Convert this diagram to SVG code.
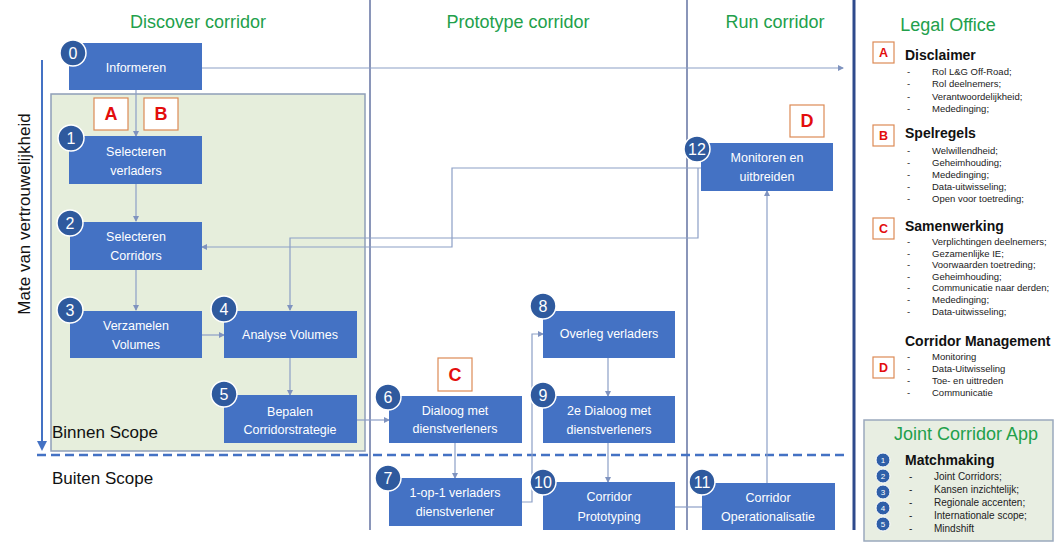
<svg xmlns="http://www.w3.org/2000/svg" width="1056" height="549" viewBox="0 0 1056 549">
<style>
.title{font-family:"Liberation Sans",Arial,sans-serif;font-size:18px;fill:#22a04b;text-anchor:middle}
.node{fill:#4472c4}
.lbl{font-family:"Liberation Sans",Arial,sans-serif;font-size:12.5px;fill:#ffffff;text-anchor:middle}
.num{fill:#2f5a9e;stroke:#ffffff;stroke-width:1.5}
.numt{font-family:"Liberation Sans",Arial,sans-serif;font-size:16px;fill:#ffffff;text-anchor:middle}
.conn{fill:none;stroke:#8c9fc6;stroke-width:1.2}
.lbox{fill:#ffffff;stroke:#dd8a55;stroke-width:1.2}
.lbig{font-family:"Liberation Sans",Arial,sans-serif;font-weight:900;font-size:18px;fill:#e30d0d;text-anchor:middle}
.lsm{font-family:"Liberation Sans",Arial,sans-serif;font-weight:900;font-size:12.5px;fill:#e30d0d;text-anchor:middle}
.head{font-family:"Liberation Sans",Arial,sans-serif;font-weight:bold;font-size:14px;fill:#111111}
.item{font-family:"Liberation Sans",Arial,sans-serif;font-size:9.5px;fill:#222222}
.item2{font-family:"Liberation Sans",Arial,sans-serif;font-size:10px;fill:#222222}
.scope{font-family:"Liberation Sans",Arial,sans-serif;font-size:17px;fill:#111111}
.col{stroke:#3c4f8a;stroke-width:1.2}
.jc{fill:#2f5fa8;stroke:#ffffff;stroke-width:1}
.jct{font-family:"Liberation Sans",Arial,sans-serif;font-size:8px;fill:#ffffff;text-anchor:middle}
</style>
<defs>
<marker id="ah" markerWidth="6" markerHeight="6" refX="5" refY="3" orient="auto" markerUnits="userSpaceOnUse">
<path d="M0,0 L6,3 L0,6 z" fill="#7f93bf"/>
</marker>
<marker id="big" markerWidth="10" markerHeight="10" refX="8" refY="5" orient="auto" markerUnits="userSpaceOnUse">
<path d="M0,0 L10,5 L0,10 z" fill="#4472c4"/>
</marker>
</defs>
<rect width="1056" height="549" fill="#ffffff"/>

<g id="background">
<rect x="51" y="94" width="314" height="357" fill="#e6eedc" stroke="#8f9fb8" stroke-width="1.5"/>
<line class="col" x1="370" y1="0" x2="370" y2="530"/>
<line class="col" x1="687" y1="0" x2="687" y2="530"/>
<line x1="854" y1="0" x2="854" y2="530" stroke="#2e4a8c" stroke-width="3"/>
<text class="title" x="198" y="28">Discover corridor</text>
<text class="title" x="518" y="28">Prototype corridor</text>
<text class="title" x="775" y="28">Run corridor</text>
<text class="title" x="948" y="31">Legal Office</text>
<line x1="42" y1="60" x2="42" y2="449" stroke="#4472c4" stroke-width="2" marker-end="url(#big)"/>
<text x="30" y="214" font-family="Liberation Sans, Arial, sans-serif" font-size="17" fill="#111111" text-anchor="middle" transform="rotate(-90 30 214)">Mate van vertrouwelijkheid</text>
<line x1="37" y1="455" x2="846" y2="455" stroke="#4472c4" stroke-width="2.5" stroke-dasharray="9 5"/>
<text class="scope" x="52" y="438">Binnen Scope</text>
<text class="scope" x="52" y="484">Buiten Scope</text>
</g>

<g id="connectors">
<line class="conn" x1="202" y1="68" x2="843" y2="68" marker-end="url(#ah)"/>
<line class="conn" x1="136" y1="90" x2="136" y2="136" marker-end="url(#ah)"/>
<line class="conn" x1="136" y1="184" x2="136" y2="221" marker-end="url(#ah)"/>
<line class="conn" x1="136" y1="270" x2="136" y2="310" marker-end="url(#ah)"/>
<line class="conn" x1="202" y1="335" x2="224" y2="335" marker-end="url(#ah)"/>
<line class="conn" x1="290" y1="358" x2="290" y2="395" marker-end="url(#ah)"/>
<line class="conn" x1="357" y1="420" x2="389" y2="420" marker-end="url(#ah)"/>
<line class="conn" x1="455" y1="443" x2="455" y2="478" marker-end="url(#ah)"/>
<polyline class="conn" points="522,502 532,502 532,334 543,334" marker-end="url(#ah)"/>
<line class="conn" x1="608" y1="358" x2="608" y2="396" marker-end="url(#ah)"/>
<line class="conn" x1="608" y1="443" x2="608" y2="482" marker-end="url(#ah)"/>
<line class="conn" x1="675" y1="507" x2="702" y2="507"/>
<line class="conn" x1="767" y1="483" x2="767" y2="191" marker-end="url(#ah)"/>
<polyline class="conn" points="701,168 452,168 452,247 202,247" marker-end="url(#ah)"/>
<polyline class="conn" points="698,168 698,238 290,238 290,310" marker-end="url(#ah)"/>
</g>

<g id="node0"><rect class="node" x="69" y="43" width="133" height="47"/><circle class="num" cx="73" cy="53" r="13"/><text class="numt" x="73" y="59">0</text><text class="lbl" x="136" y="72">Informeren</text></g>
<g id="node1"><rect class="node" x="69" y="136" width="133" height="48"/><circle class="num" cx="71" cy="138" r="13"/><text class="numt" x="71" y="144">1</text><text class="lbl" x="136" y="156">Selecteren</text><text class="lbl" x="136" y="175">verladers</text></g>
<g id="node2"><rect class="node" x="70" y="222" width="132" height="48"/><circle class="num" cx="70" cy="223" r="13"/><text class="numt" x="70" y="229">2</text><text class="lbl" x="136" y="241">Selecteren</text><text class="lbl" x="136" y="260">Corridors</text></g>
<g id="node3"><rect class="node" x="70" y="311" width="132" height="47"/><circle class="num" cx="70" cy="310" r="13"/><text class="numt" x="70" y="316">3</text><text class="lbl" x="136" y="330">Verzamelen</text><text class="lbl" x="136" y="349">Volumes</text></g>
<g id="node4"><rect class="node" x="224" y="311" width="133" height="47"/><circle class="num" cx="224" cy="309" r="13"/><text class="numt" x="224" y="315">4</text><text class="lbl" x="290" y="339">Analyse Volumes</text></g>
<g id="node5"><rect class="node" x="224" y="395" width="133" height="48"/><circle class="num" cx="224" cy="394" r="13"/><text class="numt" x="224" y="400">5</text><text class="lbl" x="290" y="416">Bepalen</text><text class="lbl" x="290" y="434">Corridorstrategie</text></g>
<g id="node6"><rect class="node" x="389" y="396" width="133" height="47"/><circle class="num" cx="388" cy="397" r="13"/><text class="numt" x="388" y="403">6</text><text class="lbl" x="455" y="415">Dialoog met</text><text class="lbl" x="455" y="433">dienstverleners</text></g>
<g id="node7"><rect class="node" x="389" y="478" width="133" height="48"/><circle class="num" cx="388" cy="478" r="13"/><text class="numt" x="388" y="484">7</text><text class="lbl" x="455" y="497">1-op-1 verladers</text><text class="lbl" x="455" y="516">dienstverlener</text></g>
<g id="node8"><rect class="node" x="543" y="311" width="132" height="47"/><circle class="num" cx="543" cy="306" r="13"/><text class="numt" x="543" y="312">8</text><text class="lbl" x="609" y="338">Overleg verladers</text></g>
<g id="node9"><rect class="node" x="543" y="396" width="132" height="47"/><circle class="num" cx="543" cy="395" r="13"/><text class="numt" x="543" y="401">9</text><text class="lbl" x="609" y="415">2e Dialoog met</text><text class="lbl" x="609" y="434">dienstverleners</text></g>
<g id="node10"><rect class="node" x="543" y="482" width="132" height="48"/><circle class="num" cx="543" cy="482" r="13"/><text class="numt" x="543" y="488">10</text><text class="lbl" x="609" y="501">Corridor</text><text class="lbl" x="609" y="521">Prototyping</text></g>
<g id="node11"><rect class="node" x="702" y="483" width="133" height="47"/><circle class="num" cx="702" cy="482" r="13"/><text class="numt" x="702" y="488">11</text><text class="lbl" x="768" y="502">Corridor</text><text class="lbl" x="768" y="521">Operationalisatie</text></g>
<g id="node12"><rect class="node" x="701" y="143" width="132" height="48"/><circle class="num" cx="697" cy="149" r="13"/><text class="numt" x="697" y="155">12</text><text class="lbl" x="767" y="162">Monitoren en</text><text class="lbl" x="767" y="181">uitbreiden</text></g>

<g id="tagA"><rect class="lbox" x="94" y="98" width="34" height="32"/><text class="lbig" x="111" y="120">A</text></g>
<g id="tagB"><rect class="lbox" x="144" y="98" width="34" height="32"/><text class="lbig" x="161" y="120">B</text></g>
<g id="tagC"><rect class="lbox" x="438" y="358" width="34" height="33"/><text class="lbig" x="455" y="381">C</text></g>
<g id="tagD"><rect class="lbox" x="790" y="105" width="34" height="32"/><text class="lbig" x="807" y="127">D</text></g>

<g id="legal-office">
<rect class="lbox" x="873" y="42" width="21" height="21"/><text class="lsm" x="883.5" y="57">A</text>
<text class="head" x="905" y="60">Disclaimer</text>
<g class="item">
<text x="907" y="75">-</text><text x="932" y="75">Rol L&amp;G Off-Road;</text>
<text x="907" y="87">-</text><text x="932" y="87">Rol deelnemers;</text>
<text x="907" y="100">-</text><text x="932" y="100">Verantwoordelijkheid;</text>
<text x="907" y="112">-</text><text x="932" y="112">Mededinging;</text>
</g>
<rect class="lbox" x="873" y="125" width="21" height="21"/><text class="lsm" x="883.5" y="140">B</text>
<text class="head" x="905" y="138">Spelregels</text>
<g class="item">
<text x="907" y="154">-</text><text x="932" y="154">Welwillendheid;</text>
<text x="907" y="166">-</text><text x="932" y="166">Geheimhouding;</text>
<text x="907" y="178">-</text><text x="932" y="178">Mededinging;</text>
<text x="907" y="190">-</text><text x="932" y="190">Data-uitwisseling;</text>
<text x="907" y="202">-</text><text x="932" y="202">Open voor toetreding;</text>
</g>
<rect class="lbox" x="873" y="218" width="21" height="21"/><text class="lsm" x="883.5" y="233">C</text>
<text class="head" x="905" y="231">Samenwerking</text>
<g class="item">
<text x="907" y="245">-</text><text x="932" y="245">Verplichtingen deelnemers;</text>
<text x="907" y="257">-</text><text x="932" y="257">Gezamenlijke IE;</text>
<text x="907" y="268">-</text><text x="932" y="268">Voorwaarden toetreding;</text>
<text x="907" y="280">-</text><text x="932" y="280">Geheimhouding;</text>
<text x="907" y="291">-</text><text x="932" y="291">Communicatie naar derden;</text>
<text x="907" y="303">-</text><text x="932" y="303">Mededinging;</text>
<text x="907" y="315">-</text><text x="932" y="315">Data-uitwisseling;</text>
</g>
<text class="head" x="905" y="346">Corridor Management</text>
<rect class="lbox" x="873" y="357" width="21" height="21"/><text class="lsm" x="883.5" y="372">D</text>
<g class="item">
<text x="907" y="360">-</text><text x="932" y="360">Monitoring</text>
<text x="907" y="372">-</text><text x="932" y="372">Data-Uitwisseling</text>
<text x="907" y="384">-</text><text x="932" y="384">Toe- en uittreden</text>
<text x="907" y="396">-</text><text x="932" y="396">Communicatie</text>
</g>
</g>

<g id="joint-corridor-app">
<rect x="864" y="420" width="189" height="121" fill="#e8eee2" stroke="#9aa9bd" stroke-width="1.5"/>
<text class="title" x="966" y="440" font-size="17">Joint Corridor App</text>
<circle class="jc" cx="883" cy="460" r="7"/><text class="jct" x="883" y="463">1</text>
<circle class="jc" cx="883" cy="476" r="7"/><text class="jct" x="883" y="479">2</text>
<circle class="jc" cx="883" cy="492" r="7"/><text class="jct" x="883" y="495">3</text>
<circle class="jc" cx="883" cy="508" r="7"/><text class="jct" x="883" y="511">4</text>
<circle class="jc" cx="883" cy="524" r="7"/><text class="jct" x="883" y="527">5</text>
<text class="head" x="905" y="465" font-size="14.5">Matchmaking</text>
<g class="item2">
<text x="909" y="480">-</text><text x="934" y="480">Joint Corridors;</text>
<text x="909" y="493">-</text><text x="934" y="493">Kansen inzichtelijk;</text>
<text x="909" y="506">-</text><text x="934" y="506">Regionale accenten;</text>
<text x="909" y="519">-</text><text x="934" y="519">Internationale scope;</text>
<text x="909" y="532">-</text><text x="934" y="532">Mindshift</text>
</g>
</g>
</svg>
